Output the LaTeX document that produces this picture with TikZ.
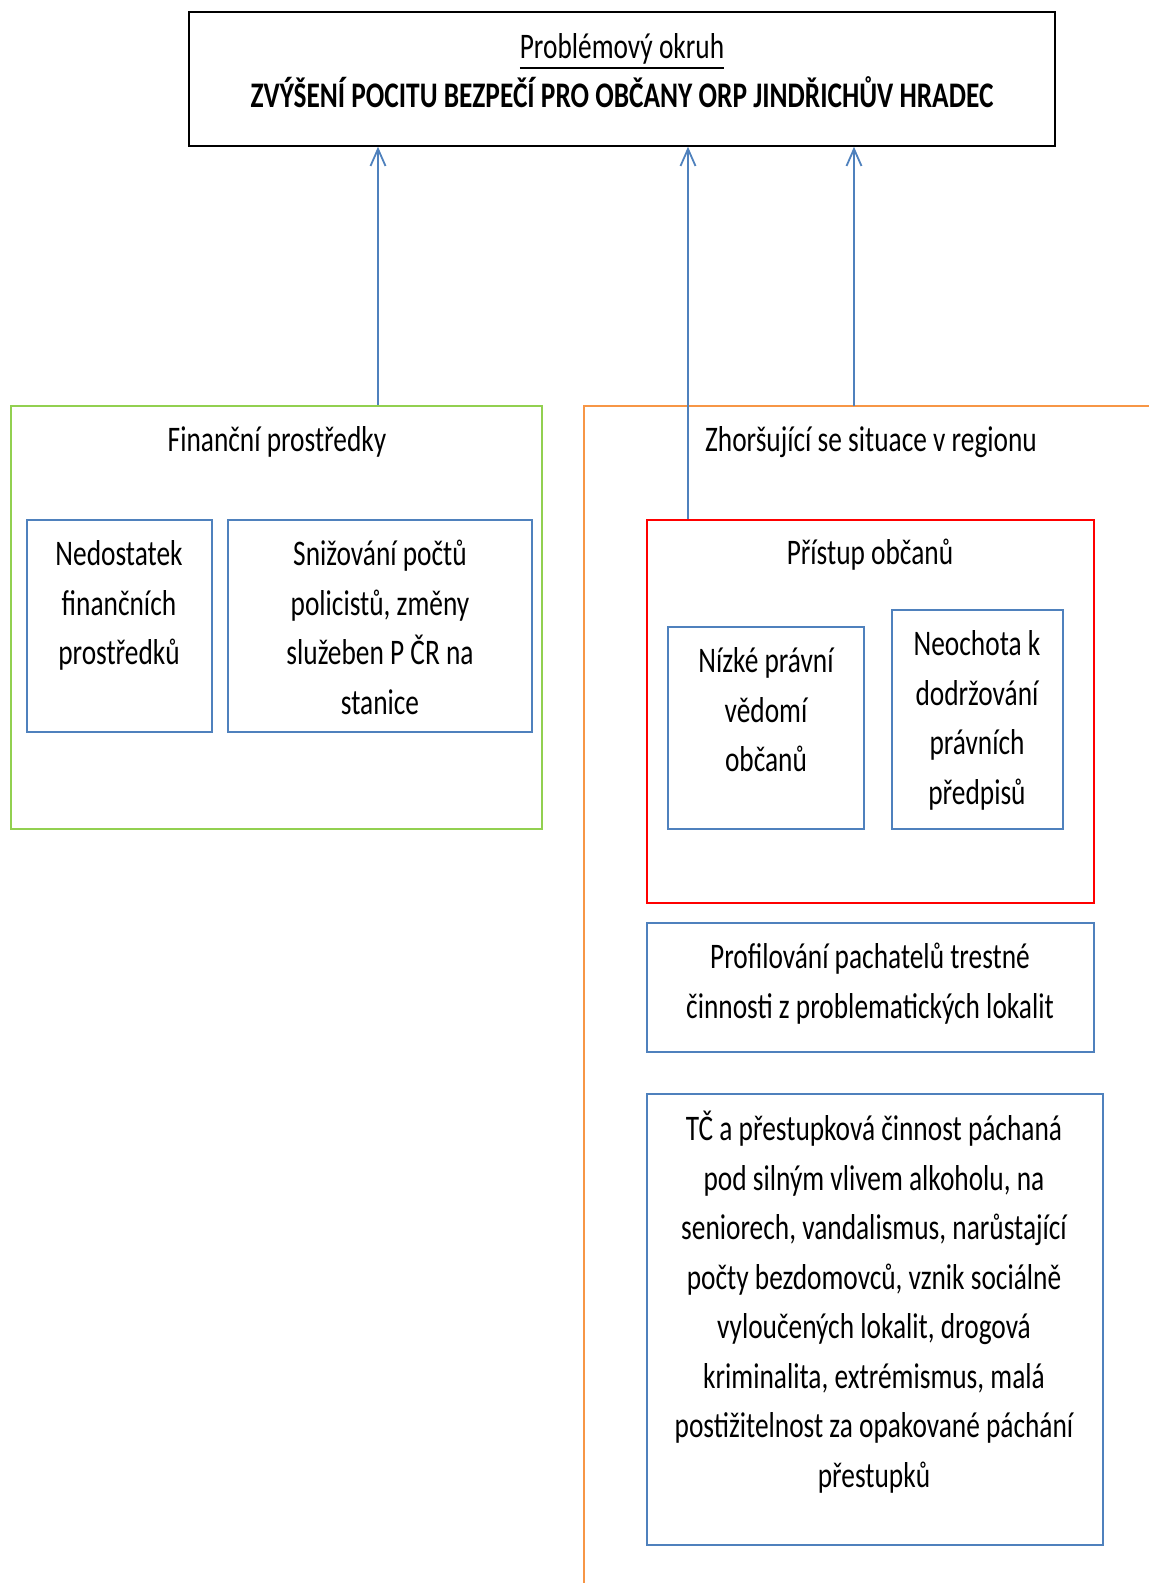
\documentclass[tikz,border=0pt]{standalone}
\usepackage{fontspec}
\setmainfont{Carlito}[FakeStretch=0.76]
\usetikzlibrary{arrows.meta}
\definecolor{modra}{HTML}{4F81BD}
\definecolor{zelena}{HTML}{92D050}
\definecolor{oranzova}{HTML}{F79646}
\definecolor{cervena}{HTML}{FF0000}
\newcommand\podtrh[1]{\leavevmode\vtop{\hbox{#1}\kern3pt\hrule height 2pt}}

\begin{document}
\begin{tikzpicture}[x=1pt,y=-1pt,line width=2pt,
  >={Straight Barb[length=17pt,width=15pt,line width=1.8pt]},
  box/.style={draw,rectangle,inner sep=0pt},
  txt/.style={anchor=north,align=center,inner sep=0pt,
    font=\fontsize{36}{49.5}\selectfont}]
  \useasboundingbox (0,0) rectangle (1149,1583);

  % problemovy okruh
  \node[box,line width=1.5pt,minimum width=866,minimum height=134] (topBox) at (622,79) {};
  \node[txt] (topText) at (622,22.5)
    {\strut\podtrh{Problémový okruh}\\\textbf{ZVÝŠENÍ POCITU BEZPEČÍ PRO OBČANY ORP JINDŘICHŮV HRADEC}};

  % financni prostredky
  \node[box,zelena,minimum width=531,minimum height=423] (finBox) at (276.5,617.5) {};
  \node[txt] (finText) at (277,416) {\strut Finanční prostředky};
  \node[box,modra,minimum width=185,minimum height=212] (nedBox) at (119.5,626) {};
  \node[txt] (nedText) at (119,530) {\strut Nedostatek\\finančních\\prostředků};
  \node[box,modra,minimum width=304,minimum height=212] (snizBox) at (380,626) {};
  \node[txt] (snizText) at (380,530) {\strut Snižování počtů\\policistů, změny\\služeben P ČR na\\stanice};

  % zhorsujici se situace
  \coordinate (zhorTop) at (584,406);
  \draw[oranzova] (1149,406) -- (zhorTop) -- (584,1583);
  \node[txt] (zhorText) at (871,416) {\strut Zhoršující se situace v regionu};

  \node[box,cervena,minimum width=447,minimum height=383] (pristupBox) at (870.5,711.5) {};
  \node[txt] (pristupText) at (870,529) {\strut Přístup občanů};
  \node[box,modra,minimum width=196,minimum height=202] (nizkeBox) at (766,728) {};
  \node[txt] (nizkeText) at (766,637) {\strut Nízké právní\\vědomí\\občanů};
  \node[box,modra,minimum width=171,minimum height=219] (neochBox) at (977.5,719.5) {};
  \node[txt] (neochText) at (977,620) {\strut Neochota k\\dodržování\\právních\\předpisů};

  \node[box,modra,minimum width=447,minimum height=129] (profilBox) at (870.5,987.5) {};
  \node[txt] (profilText) at (870,933) {\strut Profilování pachatelů trestné\\činnosti z problematických lokalit};

  \node[box,modra,minimum width=456,minimum height=451] (tcBox) at (875,1319.5) {};
  \node[txt] (tcText) at (874,1105) {\strut TČ a přestupková činnost páchaná\\pod silným vlivem alkoholu, na\\seniorech, vandalismus, narůstající\\počty bezdomovců, vznik sociálně\\vyloučených lokalit, drogová\\kriminalita, extrémismus, malá\\postižitelnost za opakované páchání\\přestupků};

  % sipky
  \coordinate (a1) at (378,0);
  \coordinate (a2) at (688,0);
  \coordinate (a3) at (854,0);
  \draw[modra,->] (a1 |- finBox.north) -- (a1 |- topBox.south);
  \draw[modra,->] (a2 |- pristupBox.north) -- (a2 |- topBox.south);
  \draw[modra,->] (a3 |- zhorTop) -- (a3 |- topBox.south);
\end{tikzpicture}
\end{document}
